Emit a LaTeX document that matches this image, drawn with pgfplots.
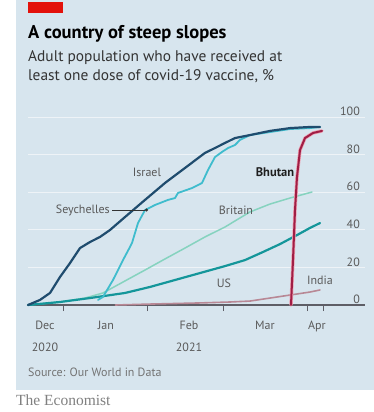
\documentclass[border=0pt]{standalone}
\usepackage{pgfplots}
\pgfplotsset{compat=1.18}
\usepackage{fontspec}
\setmainfont{PT Sans}
\newfontfamily\logofont{Liberation Serif}
\usetikzlibrary{arrows.meta}

\definecolor{bgblue}{HTML}{D7E5EE}
\definecolor{econred}{HTML}{E3120B}
\definecolor{gridc}{HTML}{EEF3F7}
\definecolor{basegrey}{HTML}{5E5E66}
\definecolor{txtgrey}{HTML}{5A5A5A}
\definecolor{israelc}{HTML}{1F4C6E}
\definecolor{seychc}{HTML}{3FBCCD}
\definecolor{britc}{HTML}{86D3BF}
\definecolor{usc}{HTML}{14969A}
\definecolor{indiac}{HTML}{B88895}
\definecolor{bhutanc}{HTML}{A01E45}
\definecolor{bhutanhalo}{HTML}{EE9FB0}

\begin{document}
\begin{tikzpicture}
% canvas and panel
\fill[white] (0,0) rectangle (374pt,-412pt);
\fill[bgblue] (16pt,0) rectangle (374pt,-390pt);
\fill[econred] (28pt,-2pt) rectangle (63pt,-13pt);

% headings
\node[anchor=base west, inner sep=0pt] at (28pt,-38pt)
  {\fontsize{18.5}{20}\selectfont\bfseries A country of steep slopes};
\node[anchor=base west, inner sep=0pt, text=black!80] at (28pt,-61pt)
  {\fontsize{15.4}{17}\selectfont Adult population who have received at};
\node[anchor=base west, inner sep=0pt, text=black!80] at (28pt,-80pt)
  {\fontsize{15.4}{17}\selectfont least one dose of covid-19 vaccine, \%};

% footer
\node[anchor=base west, inner sep=0pt, text=black!55] at (28pt,-376pt)
  {\fontsize{12}{14}\selectfont Source: Our World in Data};
\node[anchor=base west, inner sep=0pt, text=black!50] at (16pt,-405pt)
  {\fontsize{15.5}{17}\selectfont\logofont The Economist};

\begin{axis}[
  at={(28pt,-305pt)}, anchor=south west,
  scale only axis, width=337pt, height=188pt,
  xmin=10, xmax=144.8, ymin=0, ymax=100,
  clip=false,
  axis line style={draw=none},
  /pgf/number format/assume math mode=true,
  ytick={0,20,40,60,80,100},
  ymajorgrids, grid style={gridc, line width=1pt},
  ytick pos=right, yticklabel pos=right,
  yticklabel style={anchor=south east, xshift=-4pt, yshift=0pt, inner sep=1pt,
    font=\fontsize{12}{14}\selectfont, text=txtgrey},
  xtick={16.8,41.2,74.4,104.8,125.6},
  xticklabels={Dec\\2020, Jan, Feb\\2021, Mar, Apr},
  xtick pos=bottom,
  xticklabel style={align=center, anchor=north, yshift=-16pt, inner sep=0pt,
    font=\fontsize{12}{22}\selectfont, text=txtgrey},
  minor xtick={24,57.6,88,121.6,128},
  major tick length=0pt, minor tick length=6pt, tick align=outside,
  every tick/.style={basegrey, line width=0.8pt},
  every axis plot/.append style={line join=round, line cap=round},
]
% baseline
\draw[basegrey, line width=1.2pt] (axis cs:10,0) -- (axis cs:144.8,0);

% Britain
\addplot[britc, line width=1.5pt] coordinates {
 (10,0) (22.8,1.6) (32.8,3.7) (40,6.4) (48.8,12.8) (56.8,18.6) (64.8,24.5)
 (72.8,30.3) (80.8,36.2) (88.8,41.5) (92.8,44.7) (98.8,49.5) (106.8,53.7)
 (114.8,56.9) (123.6,60.1)};
% US
\addplot[usc, line width=2.2pt] coordinates {
 (10,0) (22.8,1.6) (34.8,3.7) (48.8,6.4) (58.8,9.6) (68.8,13.3) (78.8,17.0)
 (88.8,20.7) (96.8,23.9) (104,28.2) (110.8,32.4) (117.6,37.2) (122.8,41.0)
 (126.8,43.6)};
% India
\addplot[indiac, line width=1.6pt] coordinates {
 (45,0) (58.8,0.5) (78.8,1.1) (90.8,1.6) (98.8,2.1) (106.8,3.7) (114.8,5.3)
 (122.8,6.9) (126.8,8.0)};
% Seychelles
\addplot[seychc, line width=1.8pt] coordinates {
 (38,2.7) (40,4.3) (44,13.3) (48,23.9) (50.8,30.9) (51.6,33.0) (54,43.6)
 (56.8,50.5) (60.8,53.2) (66,55.9) (68.8,56.9) (70,59.6) (75.6,62.2)
 (79.6,64.9) (82,71.8) (84.8,78.7) (87.6,81.4) (90,83.5) (92.8,85.1)
 (94.8,87.8) (98.8,90.4) (106.8,92.0) (114.8,93.6) (122.8,94.1) (126.8,94.7)};
% Israel
\addplot[israelc, line width=2.2pt] coordinates {
 (10,0) (14.8,2.7) (18.8,6.4) (22.8,14.9) (26.8,22.3) (30.8,30.3) (34.8,33.5)
 (38.8,36.2) (42.8,39.9) (48.8,46.8) (56.8,55.9) (64.8,64.9) (72.8,72.9)
 (80.8,80.9) (84.8,83.5) (88.8,86.2) (92.8,88.8) (98.8,90.4) (106.8,92.6)
 (114.8,94.1) (122.8,94.7) (126.8,94.7)};
% Bhutan
\addplot[bhutanhalo, line width=3.4pt] coordinates {
 (115.2,0) (116,23.9) (116.8,50.5) (117.6,68.1) (118.8,82.4) (120.8,88.8)
 (124,91.5) (127.6,92.6)};
\addplot[bhutanc, line width=2pt] coordinates {
 (115.2,0) (116,23.9) (116.8,50.5) (117.6,68.1) (118.8,82.4) (120.8,88.8)
 (124,91.5) (127.6,92.6)};

% series labels
\begin{scope}[every node/.style={font=\fontsize{12}{14}\selectfont, text=black!65, inner sep=0pt}]
\node at (axis cs:57.6,70.7) {Israel};
\node[anchor=east] at (axis cs:42.8,50.5) {Seychelles};
\node at (axis cs:93.2,50.5) {Britain};
\node at (axis cs:88.4,11.7) {US};
\node at (axis cs:126.8,13.3) {India};
\node[font=\fontsize{12.5}{14}\selectfont\bfseries, text=black!88] at (axis cs:108.8,70.7) {Bhutan};
\end{scope}
\draw[black!80, line width=0.8pt, -{Circle[length=3pt]}] (axis cs:43.6,50.5) -- (axis cs:58,50.5);
\end{axis}
\end{tikzpicture}
\end{document}
